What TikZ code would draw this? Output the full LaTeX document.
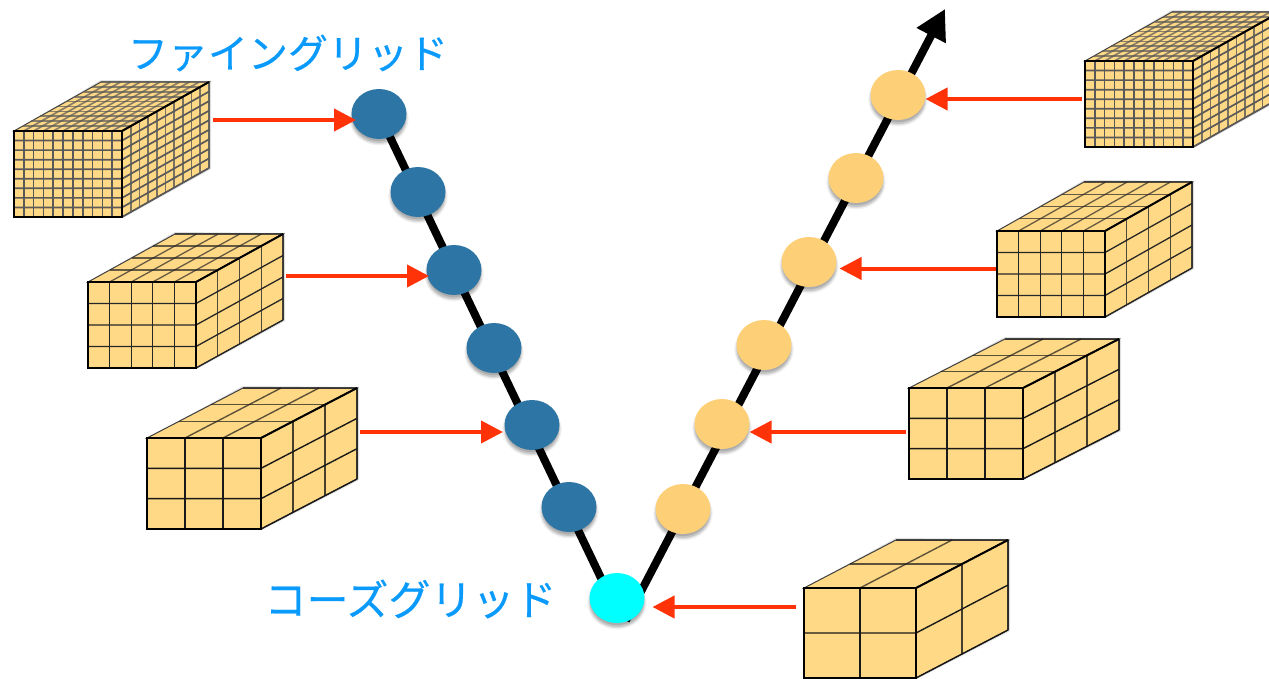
\documentclass[tikz,border=0pt]{standalone}
\usepackage{fontspec}
\newfontfamily\jpfont[FakeBold=0.4]{Noto Sans CJK JP}
\usetikzlibrary{arrows.meta,shadows,shapes.geometric,backgrounds}
\definecolor{boxfill}{HTML}{FFD985}
\definecolor{dotblue}{HTML}{2D75A4}
\definecolor{dotorange}{HTML}{FDD078}
\definecolor{dotcyan}{HTML}{00FFFF}
\definecolor{redline}{HTML}{FF3208}
\definecolor{labelblue}{HTML}{0A9AFC}
\tikzset{
  softshadow/.style={
    general shadow={shadow xshift=0pt,shadow yshift=-4pt,shadow scale=1.08,fill=black,opacity=.05},
    general shadow={shadow xshift=0pt,shadow yshift=-4pt,shadow scale=1.04,fill=black,opacity=.08},
    general shadow={shadow xshift=0pt,shadow yshift=-4pt,shadow scale=1.0,fill=black,opacity=.12},
    general shadow={shadow xshift=0pt,shadow yshift=-3pt,shadow scale=.97,fill=black,opacity=.12}},
  griddot/.style={ellipse,minimum width=55pt,minimum height=50pt,inner sep=0pt,outer sep=0pt,softshadow},
  blue dot/.style={griddot,fill=dotblue},
  orange dot/.style={griddot,fill=dotorange},
  cyan dot/.style={griddot,fill=dotcyan},
  vline/.style={black,line width=8pt},
  feed/.style={redline,line width=4pt,-{Triangle[length=22pt,width=22pt]}},
  gridlabel/.style={text=labelblue,inner sep=0pt,anchor=center},
  boxface/.style={fill=boxfill,draw=black!75,line width=1pt,line join=miter},
  frontedge/.style={draw=black,line width=2.4pt},
}
% front top-left x,y; width,height; depth dx,dy; cells nx,ny,nz; inner line width; inner line colour
\newcommand{\gridbox}[9]{%
  \def\bx{#1}\def\by{#2}\def\bw{#3}\def\bh{#4}\def\bdx{#5}\def\bdy{#6}%
  \def\nx{#7}\def\ny{#8}\def\nz{#9}\gridboxrest}
\newcommand{\gridboxrest}[2]{%
  \fill[black,opacity=.12] (\bx+\bw+1,\by+\bh+1) -- (\bx+\bw+\bdx+2,\by+\bh+\bdy+1) -- (\bx+\bw+\bdx+2,\by+\bdy-1) -- (\bx+\bdx,\by+\bdy-2) -- (\bx,\by) -- cycle;
  \filldraw[boxface] (\bx,\by) -- (\bx+\bdx,\by+\bdy) -- (\bx+\bw+\bdx,\by+\bdy) -- (\bx+\bw,\by) -- cycle;
  \filldraw[boxface] (\bx+\bw,\by) -- (\bx+\bw+\bdx,\by+\bdy) -- (\bx+\bw+\bdx,\by+\bh+\bdy) -- (\bx+\bw,\by+\bh) -- cycle;
  \filldraw[boxface] (\bx,\by) rectangle (\bx+\bw,\by+\bh);
  \begin{scope}[draw=#2,line width=#1]
  \foreach \i in {1,...,\nx}{
    \draw (\bx+\i*\bw/\nx,\by) -- (\bx+\i*\bw/\nx,\by+\bh);
    \draw[opacity=.7] (\bx+\i*\bw/\nx,\by) -- (\bx+\i*\bw/\nx+\bdx,\by+\bdy);}
  \foreach \i in {1,...,\ny}{
    \draw (\bx,\by+\i*\bh/\ny) -- (\bx+\bw,\by+\i*\bh/\ny) -- (\bx+\bw+\bdx,\by+\i*\bh/\ny+\bdy);}
  \foreach \i in {1,...,\nz}{
    \draw[opacity=.7] (\bx+\i*\bdx/\nz,\by+\i*\bdy/\nz) -- (\bx+\bw+\i*\bdx/\nz,\by+\i*\bdy/\nz);
    \draw[opacity=.8] (\bx+\bw+\i*\bdx/\nz,\by+\i*\bdy/\nz) -- (\bx+\bw+\i*\bdx/\nz,\by+\bh+\i*\bdy/\nz);}
  \end{scope}
  \draw[frontedge] (\bx,\by) rectangle (\bx+\bw,\by+\bh);
  \draw[black,line width=2pt] (\bx+\bw,\by) -- (\bx+\bw+\bdx,\by+\bdy);
}
\begin{document}
\begin{tikzpicture}[x=1pt,y=-1pt]
\path[use as bounding box,clip] (0,0) rectangle (1269,679);
% dots
\node[blue dot] (d1) at (379,114) {};
\node[blue dot] (d2) at (418,192) {};
\node[blue dot] (d3) at (454,270) {};
\node[blue dot] (d4) at (494,348) {};
\node[blue dot] (d5) at (532,425) {};
\node[blue dot] (d6) at (569,507) {};
\node[cyan dot] (c0) at (617,598) {};
\node[orange dot] (o1) at (683,509) {};
\node[orange dot] (o2) at (722,424) {};
\node[orange dot] (o3) at (764,345) {};
\node[orange dot] (o4) at (809,262) {};
\node[orange dot] (o5) at (856,178) {};
\node[orange dot] (o6) at (898,95) {};
\coordinate (top) at (945,9);
\coordinate (vee) at (623.5,625);
\begin{scope}[on background layer]
\draw[vline,shorten >=5pt] (d1.center) -- (vee);
\draw[vline,shorten <=5pt,-{Triangle[length=30pt,width=31pt]}] (vee) -- (top);
\end{scope}
% boxes
\gridbox{14}{131}{108}{86}{87}{-49}{11}{9}{10}{1.7pt}{black!65}
\gridbox{88}{282}{108}{86}{87}{-48}{5}{4}{4}{1.3pt}{black!85}
\gridbox{147}{438}{114}{91}{96}{-50}{3}{3}{3}{1.4pt}{black!90}
\gridbox{804}{588}{112}{90}{92}{-48}{2}{2}{2}{1.4pt}{black!90}
\gridbox{909}{388}{114}{91}{96}{-49}{3}{3}{3}{1.4pt}{black!90}
\gridbox{997}{231}{108}{86}{87}{-49}{5}{4}{4}{1.3pt}{black!85}
\gridbox{1085}{61}{108}{86}{87}{-49}{11}{9}{10}{1.7pt}{black!65}
% feeds
\coordinate (a1) at (213,120);
\coordinate (a2) at (286,276);
\coordinate (a3) at (360,432);
\coordinate (b0) at (796,607);
\coordinate (b1) at (906,432);
\coordinate (b2) at (996,268.5);
\coordinate (b3) at (1082,99);
\draw[feed,shorten >=-4.5pt] (a1) -- (d1.west |- a1);
\draw[feed,shorten >=-2.5pt] (a2) -- (d3.west |- a2);
\draw[feed,shorten >=1.5pt] (a3) -- (d5.west |- a3);
\draw[feed,shorten >=8pt] (b0) -- (c0.east |- b0);
\draw[feed] (b1) -- (o2.east |- b1);
\draw[feed,shorten >=3pt] (b2) -- (o4.east |- b2);
\draw[feed] (b3) -- (o6.east |- b3);
% labels
\node[gridlabel,font=\jpfont\fontsize{40}{40}\selectfont] (fine) at (288,53) {ファイングリッド};
\node[gridlabel,font=\jpfont\fontsize{42}{42}\selectfont] (coarse) at (410.5,599) {コーズグリッド};
\end{tikzpicture}
\end{document}
